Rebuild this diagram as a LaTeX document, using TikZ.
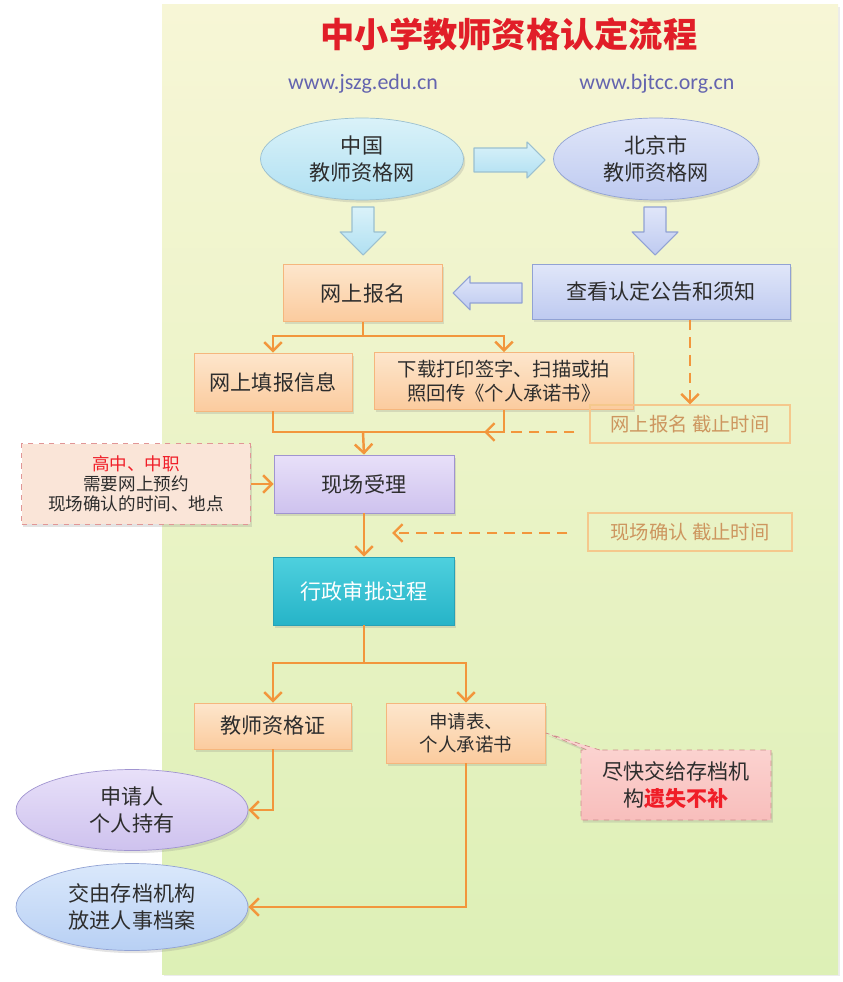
\documentclass[tikz,border=0pt]{standalone}
\usepackage{fontspec}
\setmainfont{Noto Sans CJK SC}
\newfontfamily\urlfont{Carlito}
\usetikzlibrary{shapes.geometric,shapes.callouts,shadows,arrows.meta}

\definecolor{panelTop}{RGB}{247,246,214}
\definecolor{panelBot}{RGB}{221,240,182}
\definecolor{flowOrange}{RGB}{242,150,60}
\definecolor{textGray}{RGB}{45,45,45}
\definecolor{titleRed}{RGB}{225,30,40}
\definecolor{urlBlue}{RGB}{100,100,175}
\definecolor{orangeTop}{RGB}{253,230,204}
\definecolor{orangeBot}{RGB}{251,203,158}
\definecolor{orangeLine}{RGB}{245,182,125}
\definecolor{cyanTop}{RGB}{218,242,249}
\definecolor{cyanBot}{RGB}{176,224,242}
\definecolor{cyanLine}{RGB}{155,192,208}
\definecolor{periTop}{RGB}{224,230,249}
\definecolor{periBot}{RGB}{190,202,240}
\definecolor{periLine}{RGB}{145,162,212}
\definecolor{lilacTop}{RGB}{232,224,249}
\definecolor{lilacBot}{RGB}{206,194,238}
\definecolor{lilacLine}{RGB}{160,148,208}
\definecolor{tealTop}{RGB}{78,208,222}
\definecolor{tealBot}{RGB}{38,180,200}
\definecolor{tealLine}{RGB}{40,162,182}
\definecolor{skyTop}{RGB}{218,232,251}
\definecolor{skyBot}{RGB}{184,208,244}
\definecolor{deadLine}{RGB}{245,200,140}
\definecolor{deadText}{RGB}{205,150,95}
\definecolor{noteFill}{RGB}{250,229,216}
\definecolor{noteLine}{RGB}{225,150,150}
\definecolor{warnTop}{RGB}{252,215,212}
\definecolor{warnBot}{RGB}{248,190,188}
\definecolor{warnLine}{RGB}{205,140,140}
\definecolor{alertRed}{RGB}{240,30,40}

\begin{document}
\begin{tikzpicture}[x=0.02cm, y=-0.02cm,
    >={Straight Barb[length=5pt,width=10pt]},
    every node/.style={font=\fontsize{12}{15}\selectfont, text=textGray, align=center},
    softshadow/.style={drop shadow={opacity=0.22, shadow xshift=1pt, shadow yshift=-1.5pt}},
    orangebox/.style={rectangle, draw=orangeLine, top color=orangeTop, bottom color=orangeBot, softshadow, inner sep=2pt},
    site/.style={ellipse, draw=cyanLine, inner sep=0pt, softshadow},
    bigarrow/.style={draw=cyanLine, line width=0.6pt, line join=round, top color=cyanTop, bottom color=cyanBot},
    periarrow/.style={bigarrow, draw=periLine, top color=periTop, bottom color=periBot},
    flow/.style={draw=flowOrange, line width=1.4pt},
    late/.style={flow, dash pattern=on 6pt off 4pt},
    deadline/.style={rectangle, draw=deadLine, line width=0.7pt, text=deadText, font=\fontsize{11}{13}\selectfont},
  ]
  \useasboundingbox (0,0) rectangle (842,982);
  % background panel
  \fill[top color=panelTop, bottom color=panelBot, drop shadow={opacity=0.15, shadow xshift=1pt, shadow yshift=-1pt}] (162,5) rectangle (838,974);

  % heading and addresses
  \node[text=titleRed, font=\fontsize{19.5}{22}\selectfont\bfseries] (title) at (509,34) {中小学教师资格认定流程};
  \node[text=urlBlue, font=\fontsize{12.5}{14}\urlfont] (url1) at (363,84) {www.jszg.edu.cn};
  \node[text=urlBlue, font=\fontsize{12.5}{14}\urlfont] (url2) at (657,84) {www.bjtcc.org.cn};

  % the two web sites
  \node[site, top color=cyanTop, bottom color=cyanBot, minimum width=4.06cm, minimum height=1.64cm] (china) at (362,159) {中国\\教师资格网};
  \node[site, draw=periLine, top color=periTop, bottom color=periBot, minimum width=4.1cm, minimum height=1.64cm] (beijing) at (656,159) {北京市\\教师资格网};

  % block arrows
  \path[bigarrow] (474,148) -- (527,148) -- (527,142) -- (545,160) -- (527,178) -- (527,172) -- (474,172) -- cycle;
  \path[bigarrow] (352,207) -- (374,207) -- (374,232) -- (386,232) -- (363,255) -- (340,232) -- (352,232) -- cycle;
  \path[periarrow] (644,207) -- (666,207) -- (666,232) -- (678,232) -- (655,255) -- (632,232) -- (644,232) -- cycle;
  \path[periarrow] (522,283) -- (470,283) -- (470,276) -- (453,293) -- (470,310) -- (470,303) -- (522,303) -- cycle;

  % registration
  \node[orangebox, minimum width=3.18cm, minimum height=1.14cm] (reg) at (363,293) {网上报名};
  \node[rectangle, draw=periLine, top color=periTop, bottom color=periBot, softshadow, minimum width=5.16cm, minimum height=1.1cm] (notice) at (661,292) {查看认定公告和须知};

  \node[orangebox, minimum width=3.16cm, minimum height=1.16cm] (fillin) at (273,382) {网上填报信息};
  \node[orangebox, minimum width=5.18cm, minimum height=1.14cm, font=\fontsize{11}{13.5}\selectfont] (upload) at (504,381) {下载打印签字、扫描或拍\\照回传《个人承诺书》};
  \node[deadline, minimum width=4.0cm, minimum height=0.76cm] (dl1) at (690,424) {网上报名 截止时间};

  % on-site check
  \node[rectangle, draw=lilacLine, top color=lilacTop, bottom color=lilacBot, softshadow, minimum width=3.6cm, minimum height=1.16cm] (accept) at (364,484) {现场受理};
  \node[rectangle, draw=noteLine, dashed, fill=noteFill, softshadow, minimum width=4.58cm, minimum height=1.62cm, font=\fontsize{10}{11.5}\selectfont] (note) at (136,484) {\textcolor{alertRed}{高中、中职}\\需要网上预约\\现场确认的时间、地点};
  \node[deadline, minimum width=4.08cm, minimum height=0.76cm] (dl2) at (690,532) {现场确认 截止时间};

  \node[rectangle, draw=tealLine, top color=tealTop, bottom color=tealBot, softshadow, text=white, minimum width=3.62cm, minimum height=1.36cm] (approve) at (364,591) {行政审批过程};

  % results
  \node[orangebox, minimum width=3.14cm, minimum height=0.92cm] (cert) at (273,726) {教师资格证};
  \node[orangebox, minimum width=3.18cm, minimum height=1.2cm, font=\fontsize{10.5}{13}\selectfont] (form) at (466,733) {申请表、\\个人承诺书};
  \node[rectangle callout, callout absolute pointer={(form.east)}, draw=warnLine, dashed, top color=warnTop, bottom color=warnBot, softshadow, minimum width=3.8cm, minimum height=1.4cm] (warn) at (676,785) {尽快交给存档机\\构\textcolor{alertRed}{\bfseries 遗失不补}};

  \node[site, draw=lilacLine, top color=lilacTop, bottom color=lilacBot, minimum width=4.64cm, minimum height=1.62cm] (hold) at (132,810) {申请人\\个人持有};
  \node[site, draw=periLine, top color=skyTop, bottom color=skyBot, minimum width=4.64cm, minimum height=1.74cm] (archive) at (132,907) {交由存档机构\\放进人事档案};

  % connectors
  \coordinate (split1) at (363,336);
  \coordinate (join1) at (363,432);
  \coordinate (cut1) at (484,432);
  \coordinate (cut2) at (392,533);
  \coordinate (split2) at (364,663);

  \draw[flow] (reg.south) -- (split1);
  \draw[flow, ->] (split1) -| (fillin.north);
  \draw[flow, ->] (split1) -| (upload.north);
  \draw[flow] (fillin.south) |- (upload.south |- join1) -- (upload.south);
  \draw[flow, ->] (join1) -- (accept.north);
  \draw[late, ->] (notice.south -| dl1.north) -- (dl1.north);
  \draw[late, ->, shorten <=3mm] (dl1.west |- cut1) -- (cut1);
  \draw[flow, ->] (note.east) -- (accept.west);
  \draw[flow, ->] (accept.south) -- (approve.north);
  \draw[late, ->, shorten <=4mm] (dl2.west |- cut2) -- (cut2);
  \draw[flow] (approve.south) -- (split2);
  \draw[flow, ->] (split2) -| (cert.north);
  \draw[flow, ->] (split2) -| (form.north);
  \draw[flow, ->] (cert.south) |- (hold.east);
  \draw[flow, ->] (form.south) |- (archive.east);
\end{tikzpicture}
\end{document}
